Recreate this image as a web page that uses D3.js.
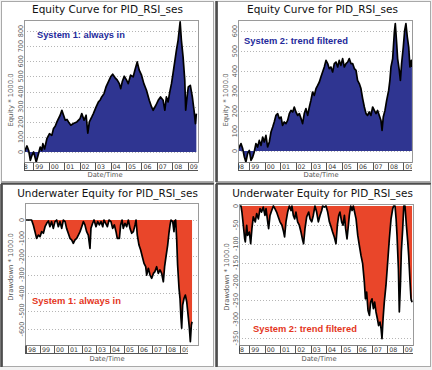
<!DOCTYPE html>
<html>
<head>
<meta charset="utf-8">
<script src="https://cdn.jsdelivr.net/npm/d3@7"></script>
<style>
	body { margin: 0; background: #fff; }
	svg { display: block; }
</style>
</head>
<body>
<div id="chart"></div>
<script>
// Year cells of the date axis
const yearStarts = [1998, 1999, 2000, 2001, 2002, 2003, 2004, 2005, 2006, 2007, 2008, 2009];
const yearLabels = ['98', '99', '00', '01', '02', '03', '04', '05', '06', '07', '08', '09'];

// Tick values of the four value axes
const equityTicks1 = [0, 100, 200, 300, 400, 500, 600, 700, 800];
const equityTicks2 = [0, 100, 200, 300, 400, 500, 600];
const drawdownTicks1 = [0, -100, -200, -300, -400, -500, -600];
const drawdownTicks2 = [0, -50, -100, -150, -200, -250, -300, -350];

// [decimal year, value * 1000]
const equity1 = [
	[1998.42, 0], [1998.59, 40], [1998.70, 10], [1998.81, -55], [1998.92, -20], [1999.02, 0],
	[1999.19, -66], [1999.34, -10], [1999.45, 33], [1999.55, 10], [1999.62, 55], [1999.73, 20],
	[1999.88, 88], [2000.05, 121], [2000.20, 110], [2000.31, 155], [2000.42, 170], [2000.53, 199],
	[2000.63, 221], [2000.74, 243], [2000.85, 276], [2000.96, 243], [2001.07, 210], [2001.18, 215],
	[2001.28, 199], [2001.43, 177], [2001.60, 188], [2001.82, 199], [2002.03, 221], [2002.14, 254],
	[2002.29, 210], [2002.42, 243], [2002.53, 125], [2002.63, 199], [2002.79, 232], [2002.89, 254],
	[2003.07, 298], [2003.22, 331], [2003.32, 342], [2003.43, 364], [2003.58, 386], [2003.71, 430],
	[2003.86, 463], [2004.01, 497], [2004.14, 514], [2004.29, 492], [2004.44, 475], [2004.57, 452],
	[2004.66, 419], [2004.76, 464], [2004.89, 501], [2005.04, 475], [2005.15, 452], [2005.30, 508],
	[2005.47, 497], [2005.58, 541], [2005.73, 596], [2005.86, 541], [2006.01, 508], [2006.16, 452],
	[2006.33, 408], [2006.51, 342], [2006.66, 298], [2006.76, 276], [2006.94, 309], [2007.09, 342],
	[2007.24, 364], [2007.41, 342], [2007.52, 276], [2007.62, 364], [2007.73, 331], [2007.84, 397],
	[2007.95, 452], [2008.05, 519], [2008.16, 596], [2008.27, 673], [2008.38, 740], [2008.51, 861],
	[2008.59, 740], [2008.70, 629], [2008.81, 475], [2008.87, 276], [2008.96, 364], [2009.04, 430],
	[2009.17, 441], [2009.30, 364], [2009.41, 276], [2009.50, 188], [2009.56, 254]
];

const equity2 = [
	[1998.24, 3], [1998.46, 37], [1998.57, 12], [1998.68, -30], [1998.78, -55], [1998.89, -13],
	[1999.00, 3], [1999.11, -47], [1999.22, -30], [1999.32, -5], [1999.43, 37], [1999.54, 20],
	[1999.65, 53], [1999.76, 28], [1999.87, 70], [1999.97, 45], [2000.08, 78], [2000.19, 20],
	[2000.30, 45], [2000.41, 95], [2000.52, 120], [2000.62, 145], [2000.73, 178], [2000.84, 187],
	[2000.95, 162], [2001.06, 170], [2001.16, 128], [2001.27, 145], [2001.38, 137], [2001.49, 153],
	[2001.60, 187], [2001.71, 203], [2001.82, 195], [2001.92, 220], [2002.03, 195], [2002.14, 178],
	[2002.25, 187], [2002.36, 162], [2002.46, 137], [2002.57, 187], [2002.68, 212], [2002.79, 178],
	[2002.90, 220], [2003.00, 253], [2003.11, 295], [2003.22, 278], [2003.33, 312], [2003.44, 328],
	[2003.55, 345], [2003.65, 370], [2003.76, 395], [2003.87, 420], [2003.98, 453], [2004.09, 437],
	[2004.19, 412], [2004.30, 420], [2004.41, 395], [2004.52, 437], [2004.63, 445], [2004.74, 420],
	[2004.84, 453], [2004.95, 428], [2005.06, 462], [2005.17, 420], [2005.28, 437], [2005.39, 445],
	[2005.49, 462], [2005.60, 437], [2005.71, 437], [2005.82, 412], [2005.93, 403], [2006.03, 353],
	[2006.14, 337], [2006.25, 312], [2006.36, 262], [2006.47, 220], [2006.58, 187], [2006.68, 178],
	[2006.79, 195], [2006.90, 178], [2007.01, 220], [2007.12, 203], [2007.23, 187], [2007.33, 203],
	[2007.44, 178], [2007.55, 153], [2007.62, 103], [2007.70, 170], [2007.81, 203], [2007.92, 253],
	[2008.05, 303], [2008.13, 353], [2008.20, 420], [2008.31, 462], [2008.42, 595], [2008.48, 637],
	[2008.57, 537], [2008.63, 462], [2008.74, 403], [2008.81, 353], [2008.89, 437], [2009.00, 520],
	[2009.09, 603], [2009.17, 637], [2009.26, 570], [2009.35, 520], [2009.43, 420], [2009.52, 453],
	[2009.56, 420]
];

const drawdown1 = [
	[1997.93, 0], [1998.40, 0], [1998.52, -27], [1998.64, -64], [1998.76, -101], [1998.88, -83],
	[1999.00, -92], [1999.12, -64], [1999.24, -73], [1999.36, -37], [1999.48, -18], [1999.60, -5],
	[1999.71, -37], [1999.83, -9], [1999.95, -46], [2000.07, -9], [2000.19, 0], [2000.31, -37],
	[2000.43, -9], [2000.55, -46], [2000.67, 0], [2000.79, -9], [2000.90, -46], [2001.02, -73],
	[2001.14, -101], [2001.26, -110], [2001.38, -128], [2001.50, -110], [2001.62, -101], [2001.74, -83],
	[2001.86, -64], [2001.98, -37], [2002.10, -9], [2002.21, -27], [2002.33, -64], [2002.45, -83],
	[2002.57, -156], [2002.64, -46], [2002.76, -18], [2002.86, 0], [2003.00, -37], [2003.12, -9],
	[2003.24, -27], [2003.36, -9], [2003.48, -37], [2003.57, 0], [2003.69, -18], [2003.81, -37],
	[2003.93, 0], [2004.07, -9], [2004.19, -46], [2004.31, -27], [2004.43, -64], [2004.52, -101],
	[2004.67, -101], [2004.76, -27], [2004.86, 0], [2004.95, -46], [2005.07, -18], [2005.19, -37],
	[2005.31, 0], [2005.43, -46], [2005.55, -73], [2005.67, -64], [2005.79, -27], [2005.86, 0],
	[2005.95, -83], [2006.07, -138], [2006.19, -165], [2006.31, -202], [2006.43, -239], [2006.55, -257],
	[2006.62, -303], [2006.74, -266], [2006.86, -303], [2006.98, -321], [2007.10, -294], [2007.21, -284],
	[2007.33, -257], [2007.45, -294], [2007.57, -275], [2007.69, -294], [2007.81, -340], [2007.90, -257],
	[2008.00, -202], [2008.12, -138], [2008.21, -73], [2008.29, -27], [2008.36, 0], [2008.48, -9],
	[2008.57, -64], [2008.62, -5], [2008.69, 0], [2008.76, -101], [2008.83, -248], [2008.93, -376],
	[2009.00, -431], [2009.07, -541], [2009.12, -596], [2009.19, -468], [2009.29, -431], [2009.38, -413],
	[2009.48, -450], [2009.60, -541], [2009.67, -596], [2009.74, -670], [2009.81, -578], [2009.86, -560]
];

const drawdown2 = [
	[1998.35, 0], [1998.46, 0], [1998.52, -16], [1998.61, -51], [1998.70, -87], [1998.74, -95],
	[1998.83, -51], [1998.89, -78], [1999.00, -69], [1999.09, -100], [1999.17, -60], [1999.26, -29],
	[1999.39, -42], [1999.48, -20], [1999.59, -34], [1999.70, -7], [1999.80, -16], [1999.91, -3],
	[2000.02, -25], [2000.09, -7], [2000.20, -42], [2000.26, -60], [2000.35, -25], [2000.46, -12],
	[2000.57, 0], [2000.67, -7], [2000.78, -16], [2000.89, -29], [2001.00, -42], [2001.13, -51],
	[2001.24, -69], [2001.30, -82], [2001.39, -42], [2001.50, -16], [2001.61, 0], [2001.72, -12],
	[2001.78, 0], [2001.87, -25], [2001.96, -34], [2002.04, -16], [2002.15, -42], [2002.26, -51],
	[2002.37, -69], [2002.48, -91], [2002.54, -100], [2002.63, -60], [2002.74, -29], [2002.87, -16],
	[2002.96, -34], [2003.07, -42], [2003.17, -25], [2003.28, 0], [2003.39, -16], [2003.50, -42],
	[2003.61, -25], [2003.72, -12], [2003.78, 0], [2003.89, -3], [2004.00, 0], [2004.11, -16],
	[2004.22, -42], [2004.33, -55], [2004.43, -69], [2004.54, -82], [2004.65, -100], [2004.74, -51],
	[2004.83, -25], [2004.91, -16], [2005.02, -42], [2005.11, -51], [2005.20, -25], [2005.28, -60],
	[2005.37, -87], [2005.46, -51], [2005.52, -25], [2005.61, 0], [2005.70, -12], [2005.78, 0],
	[2005.96, -34], [2006.07, -78], [2006.17, -104], [2006.28, -131], [2006.39, -153], [2006.50, -202],
	[2006.57, -246], [2006.65, -228], [2006.74, -277], [2006.83, -290], [2006.91, -255], [2007.00, -246],
	[2007.09, -272], [2007.17, -255], [2007.26, -281], [2007.35, -299], [2007.43, -317], [2007.52, -308],
	[2007.59, -325], [2007.65, -352], [2007.72, -299], [2007.80, -255], [2007.91, -210], [2008.02, -149],
	[2008.13, -87], [2008.24, -34], [2008.35, -7], [2008.41, 0], [2008.50, 0], [2008.57, -34],
	[2008.63, -78], [2008.72, -166], [2008.78, -281], [2008.85, -210], [2008.91, -122], [2009.00, -60],
	[2009.07, 0], [2009.15, 0], [2009.24, -51], [2009.33, -95], [2009.39, -131], [2009.48, -202],
	[2009.54, -246], [2009.61, -255]
];

const width = 432;
const height = 370;
const blueFill = '#2f3591';
const redFill = '#e9462a';

const svg = d3.select('#chart').append('svg')
	.attr('width', width)
	.attr('height', height)
	.attr('viewBox', [0, 0, width, height]);

svg.append('rect').attr('width', width).attr('height', height).attr('fill', '#f2f2f2');

// Each window: frame, plot box, reference points of the scales, texts
const panels = [
	{
		frame: [1, 1, 212, 180], dark: false,
		plot: [24, 198, 20, 162], bandEnd: 198,
		xRef: [33.3, 187.7], yDomain: [0, 800], yRange: [152, 31], ticks: equityTicks1,
		data: equity1, fill: blueFill,
		title: 'Equity Curve for PID_RSI_ses', titleX: 107.5, titleY: 13, titleW: 151,
		yTitle: 'Equity * 1000.0', yTitleX: 13, yTitleY: 100,
		note: 'System 1: always in', noteX: 37, noteY: 38, noteW: 88, noteColor: '#23299a',
		dateX: 105, dateY: 177,
	},
	{
		frame: [217, 1, 213, 180], dark: true,
		plot: [238, 412, 20, 162], bandEnd: 412,
		xRef: [249.3, 403.3], yDomain: [0, 600], yRange: [151, 31], ticks: equityTicks2,
		data: equity2, fill: blueFill,
		title: 'Equity Curve for PID_RSI_ses', titleX: 322.5, titleY: 13, titleW: 151,
		yTitle: 'Equity * 1000.0', yTitleX: 228, yTitleY: 100,
		note: 'System 2: trend filtered', noteX: 244, noteY: 44, noteW: 104, noteColor: '#23299a',
		dateX: 321, dateY: 177,
	},
	{
		frame: [2, 184, 211, 182], dark: true,
		plot: [25, 198, 203, 345], bandEnd: 188,
		xRef: [40, 180], yDomain: [0, -600], yRange: [220, 329], ticks: drawdownTicks1,
		data: drawdown1, fill: redFill,
		title: 'Underwater Equity for PID_RSI_ses', titleX: 107.5, titleY: 197, titleW: 181,
		yTitle: 'Drawdown * 1000.0', yTitleX: 13, yTitleY: 267,
		note: 'System 1: always in', noteX: 32, noteY: 304, noteW: 89, noteColor: '#e4361c',
		dateX: 107, dateY: 361,
	},
	{
		frame: [217, 184, 213, 182], dark: true,
		plot: [239, 413, 204, 345], bandEnd: 413,
		xRef: [249.3, 402.7], yDomain: [0, -350], yRange: [206, 338], ticks: drawdownTicks2,
		data: drawdown2, fill: redFill,
		title: 'Underwater Equity for PID_RSI_ses', titleX: 322.5, titleY: 197, titleW: 181,
		yTitle: 'Drawdown * 1000.0', yTitleX: 229, yTitleY: 277,
		note: 'System 2: trend filtered', noteX: 253, noteY: 332, noteW: 104, noteColor: '#e4361c',
		dateX: 319, dateY: 361,
	},
];

// shrink or grow a text so it spans the given width
function fitWidth(text, w) {
	const len = text.node().getComputedTextLength();
	const size = parseFloat(text.attr('font-size'));
	text.attr('font-size', (size * w) / len);
}

panels.forEach((p, i) => {
	const [fx, fy, fw, fh] = p.frame;
	const [x0, x1, y0, y1] = p.plot;
	const g = svg.append('g');

	// Window
	g.append('rect')
		.attr('x', fx + 0.5).attr('y', fy + 0.5)
		.attr('width', fw).attr('height', fh)
		.attr('fill', '#fff')
		.attr('stroke', '#a9a9a9');
	if (p.dark) {
		g.append('line')
			.attr('x1', fx - 0.5).attr('x2', fx - 0.5)
			.attr('y1', fy).attr('y2', fy + fh + 1)
			.attr('stroke', '#4d4d4d').attr('stroke-width', 2.5);
		if (fy > 100) {
			g.append('line')
				.attr('x1', fx - 1).attr('x2', fx + fw + 1)
				.attr('y1', fy - 0.5).attr('y2', fy - 0.5)
				.attr('stroke', '#4d4d4d').attr('stroke-width', 2);
		}
	}

	const x = d3.scaleLinear().domain([1999, 2009]).range(p.xRef);
	const y = d3.scaleLinear().domain(p.yDomain).range(p.yRange);

	const clipId = 'clip' + i;
	g.append('clipPath').attr('id', clipId)
		.append('rect').attr('x', x0).attr('y', y0).attr('width', x1 - x0).attr('height', y1 - y0);

	// Grid lines
	g.append('g')
		.selectAll('line')
		.data(p.ticks)
		.join('line')
		.attr('x1', x0).attr('x2', x1)
		.attr('y1', (d) => Math.round(y(d)) + 0.5)
		.attr('y2', (d) => Math.round(y(d)) + 0.5)
		.attr('stroke', '#b5b5b5')
		.attr('stroke-dasharray', '1,2');

	// Area and curve
	const area = d3.area()
		.x((d) => x(d[0]))
		.y0(y(0))
		.y1((d) => y(d[1]));
	const line = d3.line()
		.x((d) => x(d[0]))
		.y((d) => y(d[1]));
	const marks = g.append('g').attr('clip-path', `url(#${clipId})`);
	marks.append('path').datum(p.data).attr('d', area).attr('fill', p.fill);
	marks.append('path').datum(p.data).attr('d', line)
		.attr('fill', 'none')
		.attr('stroke', '#000')
		.attr('stroke-width', 1.7)
		.attr('stroke-linejoin', 'round');

	// Plot frame
	g.append('rect')
		.attr('x', x0 + 0.5).attr('y', y0 + 0.5)
		.attr('width', x1 - x0).attr('height', y1 - y0)
		.attr('fill', 'none')
		.attr('stroke', '#9a9a9a');

	// Value labels, rotated
	g.append('g')
		.selectAll('text')
		.data(p.ticks)
		.join('text')
		.attr('transform', (d) => `translate(${x0 - 1.5},${y(d)}) rotate(-90)`)
		.attr('text-anchor', 'middle')
		.attr('font-family', 'DejaVu Sans, Verdana, sans-serif')
		.attr('font-size', 6.5)
		.attr('fill', '#555')
		.text((d) => d);

	g.append('text')
		.attr('transform', `translate(${p.yTitleX},${p.yTitleY}) rotate(-90)`)
		.attr('text-anchor', 'middle')
		.attr('font-family', 'DejaVu Sans, Verdana, sans-serif')
		.attr('font-size', 6.8)
		.attr('fill', '#555')
		.text(p.yTitle);

	// Date band with one cell per year
	const bandTop = y1 + 0.5;
	const bandH = 8;
	const bandId = 'band' + i;
	g.append('clipPath').attr('id', bandId)
		.append('rect').attr('x', x0).attr('y', bandTop).attr('width', p.bandEnd - x0).attr('height', bandH + 1);
	const band = g.append('g').attr('clip-path', `url(#${bandId})`);
	band.append('rect')
		.attr('x', x0 + 0.5).attr('y', bandTop)
		.attr('width', p.bandEnd - x0).attr('height', bandH)
		.attr('fill', '#fff')
		.attr('stroke', '#555');
	band.selectAll('line')
		.data(yearStarts)
		.join('line')
		.attr('x1', (d) => Math.round(x(d)) + 0.5)
		.attr('x2', (d) => Math.round(x(d)) + 0.5)
		.attr('y1', bandTop).attr('y2', bandTop + bandH)
		.attr('stroke', '#555');
	band.selectAll('text')
		.data(yearStarts)
		.join('text')
		.attr('x', (d) => x(d) + 2)
		.attr('y', bandTop + 6.3)
		.attr('font-family', 'DejaVu Sans, Verdana, sans-serif')
		.attr('font-size', 6.3)
		.attr('fill', '#333')
		.text((d, j) => yearLabels[j]);

	g.append('text')
		.attr('x', p.dateX).attr('y', p.dateY)
		.attr('text-anchor', 'middle')
		.attr('font-family', 'DejaVu Sans, Verdana, sans-serif')
		.attr('font-size', 6.8)
		.attr('fill', '#555')
		.text('Date/Time');

	// Title
	const title = g.append('text')
		.attr('x', p.titleX).attr('y', p.titleY)
		.attr('text-anchor', 'middle')
		.attr('font-family', 'DejaVu Sans, Verdana, sans-serif')
		.attr('font-size', 11)
		.attr('fill', '#111')
		.text(p.title);
	fitWidth(title, p.titleW);

	// System note
	const note = g.append('text')
		.attr('x', p.noteX).attr('y', p.noteY)
		.attr('font-family', 'Liberation Sans, Arial, sans-serif')
		.attr('font-weight', 'bold')
		.attr('font-size', 9)
		.attr('fill', p.noteColor)
		.text(p.note);
	fitWidth(note, p.noteW);
});
</script>
</body>
</html>
